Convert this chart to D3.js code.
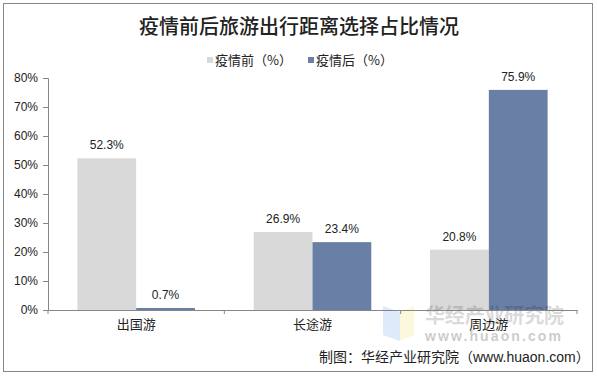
<!DOCTYPE html>
<html>
<head>
<meta charset="utf-8">
<script src="https://cdn.jsdelivr.net/npm/d3@7"></script>
<style>
  html, body { margin: 0; padding: 0; background: #fff; overflow: hidden; }
  text { font-family: "Liberation Sans", "Noto Sans CJK SC", sans-serif; fill: #222; }
  .cjk { font-family: "Noto Sans CJK SC", sans-serif; }
</style>
</head>
<body>
<script>
const categories = ["出国游", "长途游", "周边游"];
const seriesNames = ["疫情前（%）", "疫情后（%）"];
const before = [52.3, 26.9, 20.8];
const after = [0.7, 23.4, 75.9];
const yTicks = [0, 10, 20, 30, 40, 50, 60, 70, 80];
const colors = ["#d9d9d9", "#6a7fa6"];

const w = 597;
const h = 376;
const m = { t: 78, r: 20, b: 66, l: 48 };

const svg = d3.select("body").append("svg").attr("width", w).attr("height", h).style("display", "block");

// frame
svg.append("rect")
  .attr("x", 3.5).attr("y", 3.5)
  .attr("width", 589).attr("height", 368)
  .attr("fill", "#fff").attr("stroke", "#868686");

const xScale = d3.scaleBand().domain(categories).range([m.l, w - m.r]).paddingInner(1 / 3).paddingOuter(1 / 6);
const xOuter = d3.scaleBand().domain(categories).range([m.l, w - m.r]);
const xInner = d3.scaleBand().domain([0, 1]).range([0, xScale.bandwidth()]);
const yScale = d3.scaleLinear().domain([0, 80]).range([h - m.b, m.t]);

// bars
const rows = categories.map((c, i) => ({ cat: c, vals: [before[i], after[i]] }));
const groups = svg.selectAll(".cat").data(rows).enter().append("g")
  .attr("class", "cat")
  .attr("transform", (d) => `translate(${xScale(d.cat)}, 0)`);

groups.selectAll("rect").data((d) => d.vals).enter().append("rect")
  .attr("x", (d, i) => xInner(i))
  .attr("y", (d) => yScale(d))
  .attr("width", xInner.bandwidth())
  .attr("height", (d) => yScale(0) - yScale(d))
  .attr("fill", (d, i) => colors[i]);

// watermark, laid over the bars but under the axis
const wm = svg.append("g");
wm.append("path").attr("d", "M383 306 L400 312 L400 341 L383 335 Z").attr("fill", "#dceaf9");
wm.append("path").attr("d", "M400 312 L414 306 L414 335 L400 341 Z").attr("fill", "#fdf7dc");
wm.append("text").attr("class", "cjk").attr("x", 425).attr("y", 323)
  .attr("font-size", 20).attr("font-weight", 700).attr("textLength", 139)
  .style("fill", "#000").attr("opacity", 0.14).text("华经产业研究院");
wm.append("text").attr("x", 425).attr("y", 341)
  .attr("font-size", 14).attr("font-weight", 700).attr("letter-spacing", 2.1)
  .style("fill", "#000").attr("opacity", 0.2).text("www.huaon.com");

// value labels
groups.selectAll(".val").data((d) => d.vals).enter().append("text")
  .attr("class", "val")
  .attr("x", (d, i) => xInner(i) + xInner.bandwidth() / 2)
  .attr("y", (d) => yScale(d) - 9)
  .attr("text-anchor", "middle")
  .attr("font-size", 12)
  .text((d) => d.toFixed(1) + "%");

// y-axis
const yAxis = d3.axisLeft(yScale).tickValues(yTicks).tickSize(5).tickPadding(5).tickFormat((d) => d + "%");
const gy = svg.append("g").attr("transform", `translate(${m.l}, 0)`).call(yAxis);

// x-axis, ticks between the categories
const xAxis = d3.axisBottom(xOuter).tickSize(0).tickPadding(10);
const gx = svg.append("g").attr("transform", `translate(0, ${h - m.b})`).call(xAxis);
gx.selectAll(".sep").data(d3.range(categories.length + 1)).enter().append("line")
  .attr("class", "sep")
  .attr("x1", (i) => m.l + i * xOuter.step())
  .attr("x2", (i) => m.l + i * xOuter.step())
  .attr("y1", 0).attr("y2", 4)
  .attr("stroke", "#868686");

[gx, gy].forEach((g) => {
  g.selectAll("path, line").attr("stroke", "#868686");
  g.selectAll("text").attr("font-size", 12).style("fill", "#222");
});
gx.selectAll("text").attr("class", "cjk").attr("font-size", 13);

// title
svg.append("text")
  .attr("class", "cjk")
  .attr("x", 299).attr("y", 34)
  .attr("text-anchor", "middle")
  .attr("font-size", 20)
  .attr("font-weight", 500)
  .text("疫情前后旅游出行距离选择占比情况");

// legend
const legendX = [207, 308];
const legend = svg.selectAll(".legend").data(seriesNames).enter().append("g")
  .attr("class", "legend")
  .attr("transform", (d, i) => `translate(${legendX[i]}, 60)`);
legend.append("rect")
  .attr("x", 0).attr("y", -3)
  .attr("width", 6).attr("height", 6)
  .attr("fill", (d, i) => colors[i]);
legend.append("text")
  .attr("class", "cjk")
  .attr("x", 8).attr("y", 5)
  .attr("font-size", 13)
  .text((d) => d);

// source
svg.append("text")
  .attr("x", 319).attr("y", 362)
  .attr("font-size", 14)
  .text("制图：华经产业研究院（www.huaon.com）");
</script>
</body>
</html>
